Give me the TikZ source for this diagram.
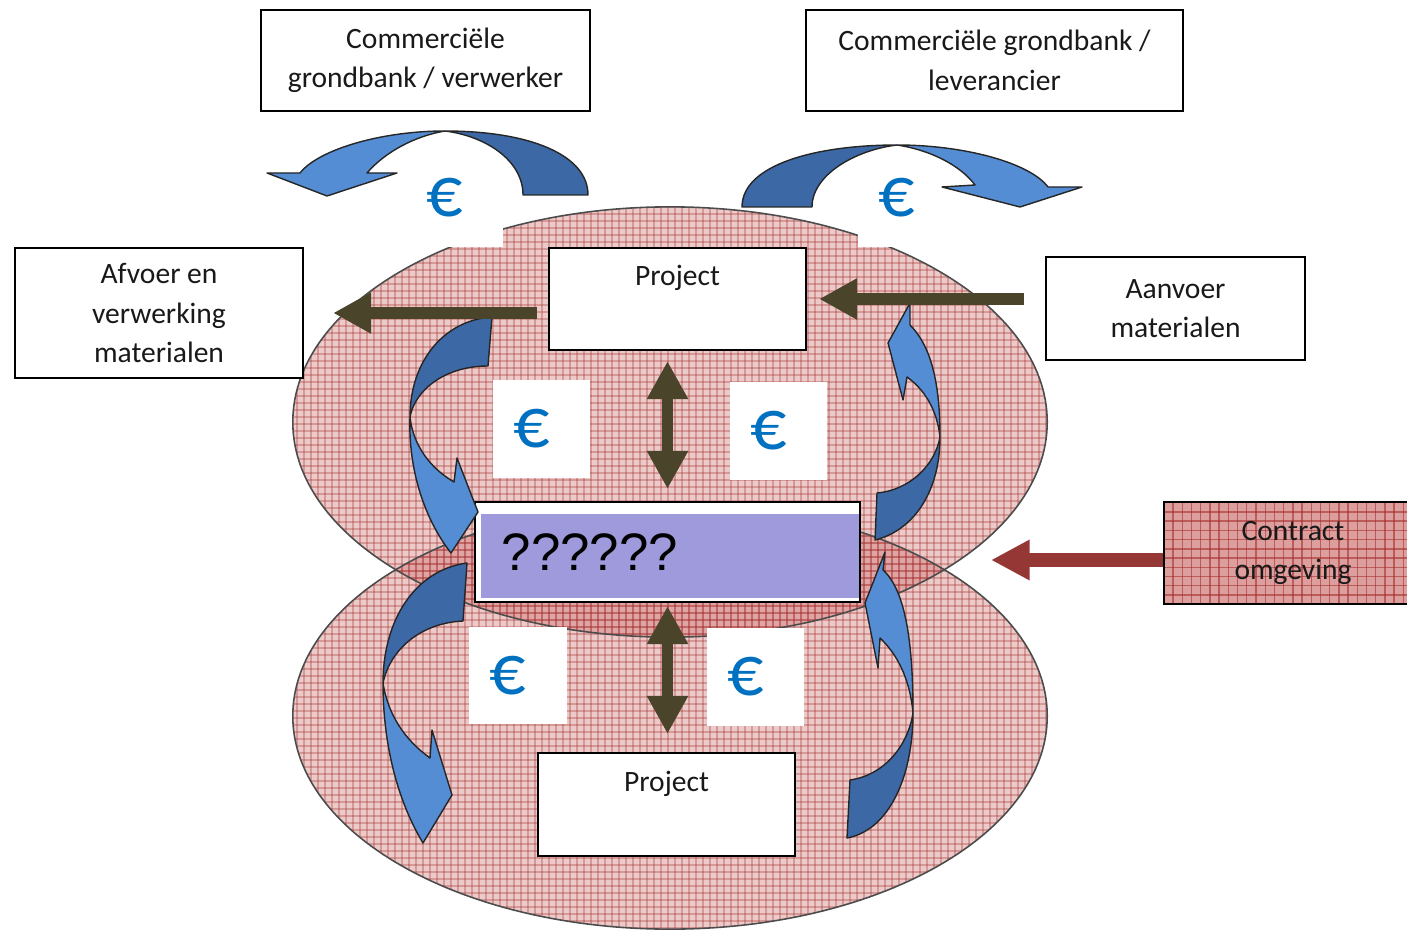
\documentclass[tikz,border=0pt]{standalone}
\usepackage{fontspec}
\setmainfont{Carlito}
\newfontfamily\qfont{Liberation Sans}
\usetikzlibrary{arrows.meta, positioning}
\definecolor{plaidred}{RGB}{192,80,77}
\definecolor{plaidline}{RGB}{165,48,48}
\definecolor{bluelight}{RGB}{84,141,212}
\definecolor{bluedark}{RGB}{60,104,166}
\definecolor{olivedark}{RGB}{74,69,42}
\definecolor{arrowred}{RGB}{149,55,53}
\definecolor{eurblue}{RGB}{0,112,192}
\definecolor{qpurple}{RGB}{158,154,220}

\tikzset{
  boxtext/.style={font=\fontsize{8.4}{11.2}\selectfont, text=black!90},
  box/.style={draw=black, line width=0.6pt, fill=white, align=center, inner sep=0pt, boxtext},
  euro/.style={fill=white, minimum width=0.97cm, minimum height=0.97cm, inner sep=0pt, text=eurblue, font=\fontsize{20.5}{20.5}\selectfont},
  gridline/.style={draw=plaidline, line width=0.4pt, opacity=0.32},
  ovaledge/.style={draw=black!70, line width=0.45pt},
  lightpart/.style={fill=bluelight, draw=black!85, line width=0.4pt, line join=round},
  darkpart/.style={fill=bluedark, draw=black!85, line width=0.4pt, line join=round},
  darkarrow/.style={draw=olivedark, line width=3.3pt, -{Triangle[length=10.8pt, width=11pt]}},
  dblarrow/.style={draw=olivedark, line width=3.4pt, {Triangle[length=10.8pt, width=11pt]}-{Triangle[length=10.8pt, width=11pt]}},
  redarrow/.style={draw=arrowred, line width=3.7pt, -{Triangle[length=11pt, width=10.8pt]}}
}

\begin{document}
\begin{tikzpicture}[x=0.01cm, y=-0.01cm]
    \path[use as bounding box, clip] (0,0) rectangle (1407,931);

    % the two plaid ovals, bottom one first
    \foreach \cy/\ry in {716/2.13cm, 422/2.15cm} {
        \begin{scope}
            \clip (670,\cy) ellipse [x radius=3.77cm, y radius=\ry];
            \fill[plaidred, fill opacity=0.3] (280,\cy-230) rectangle (1060,\cy+230);
            \foreach \gx in {290,297,...,1050}
                \draw[gridline] (\gx,\cy-230) -- (\gx,\cy+230);
            \foreach \gy in {193,200,...,950}
                \draw[gridline] (280,\gy) -- (1060,\gy);
        \end{scope}
    }
    \draw[ovaledge] (670,716) ellipse [x radius=3.77cm, y radius=2.13cm];
    \draw[ovaledge] (670,422) ellipse [x radius=3.77cm, y radius=2.15cm];

    % euro labels
    \node[euro] (euTL) at (454.5,198) {€\kern0.2cm};
    \node[euro] (euTR) at (906.5,198) {€\kern0.2cm};
    \node[euro] (euA) at (541.5,429) {€\kern0.2cm};
    \node[euro] (euB) at (778.5,431) {€\kern0.2cm};
    \node[euro] (euC) at (518,675.5) {€\kern0.2cm};
    \node[euro] (euD) at (755.5,677) {€\kern0.2cm};

    % boxes
    \node[box, minimum width=3.29cm, minimum height=1.01cm] (grondL) at (425.5,60.5) {Commerciële\\grondbank / verwerker};
    \node[box, minimum width=3.77cm, minimum height=1.01cm] (grondR) at (994.5,60.5) {Commerciële grondbank /\\leverancier};
    \node[box, minimum width=2.88cm, minimum height=1.30cm] (afvoer) at (159,313) {Afvoer en\\verwerking\\materialen};
    \node[box, minimum width=2.59cm, minimum height=1.03cm] (aanvoer) at (1175.5,308.5) {Aanvoer\\materialen};
    \node[box, minimum width=2.57cm, minimum height=1.02cm,
          label={[name=proj1lbl, anchor=north, inner sep=0pt, yshift=-0.18cm, boxtext]north:Project}] (proj1) at (677.5,299) {};
    \node[box, minimum width=2.57cm, minimum height=1.03cm,
          label={[name=proj2lbl, anchor=north, inner sep=0pt, yshift=-0.19cm, boxtext]north:Project}] (proj2) at (666.5,804.5) {};
    \node[box, fill=plaidred!55!white, minimum width=2.58cm, minimum height=1.02cm,
          path picture={
              \foreach \gk in {0,...,28}
                  \draw[gridline, opacity=0.6] ([xshift=\gk*0.092cm]path picture bounding box.south west) -- ([xshift=\gk*0.092cm]path picture bounding box.north west);
              \foreach \gk in {0,...,11}
                  \draw[gridline, opacity=0.6] ([yshift=\gk*0.092cm]path picture bounding box.south west) -- ([yshift=\gk*0.092cm]path picture bounding box.south east);
          }] (contract) at (1293,553) {Contract\\omgeving};
    \node[box, minimum width=3.85cm, minimum height=1.00cm, text width=3.31cm, inner xsep=0.27cm, align=left,
          font=\qfont\fontsize{15}{15}\selectfont, text=black,
          path picture={
              \fill[qpurple] ([xshift=0.06cm, yshift=0.04cm]path picture bounding box.south west) rectangle ([yshift=-0.12cm]path picture bounding box.north east);
          }] (qbox) at (667.5,552) {??????};

    % curved money arrows
    \fill[darkpart] (588,195) .. controls (588,155) and (530,131) .. (445,131)
        .. controls (485,136) and (523,160) .. (523,195) -- cycle;
    \fill[lightpart] (445,131) .. controls (380,131) and (318,150) .. (300,173) -- (267,173) -- (327,196) -- (397,173) -- (367,173)
        .. controls (385,152) and (415,136) .. (445,131) -- cycle;

    \fill[darkpart] (742,207) .. controls (742,165) and (815,145) .. (897,145)
        .. controls (855,150) and (812,175) .. (812,207) -- cycle;
    \fill[lightpart] (897,145) .. controls (965,145) and (1030,163) .. (1048,187) -- (1082,187) -- (1020,207) -- (942,187) -- (975,185)
        .. controls (960,165) and (930,150) .. (897,145) -- cycle;

    \fill[darkpart] (492,317) .. controls (445,320) and (410,360) .. (410,417)
        .. controls (415,390) and (445,366) .. (488,366) -- cycle;
    \fill[lightpart] (410,417) .. controls (408,470) and (425,520) .. (451,553) -- (478,512) -- (457,458) -- (454,482)
        .. controls (430,468) and (413,445) .. (410,417) -- cycle;

    \fill[darkpart] (467,563) .. controls (415,570) and (383,620) .. (383,683)
        .. controls (390,650) and (420,623) .. (463,621) -- cycle;
    \fill[lightpart] (383,683) .. controls (383,750) and (400,805) .. (423,843) -- (452,795) -- (432,730) -- (430,758)
        .. controls (405,740) and (388,715) .. (383,683) -- cycle;

    \fill[darkpart] (875,540) .. controls (915,530) and (940,490) .. (940,437)
        .. controls (935,465) and (910,490) .. (877,493) -- cycle;
    \fill[lightpart] (940,437) .. controls (940,380) and (930,345) .. (910,325) -- (910,303) -- (888,343) -- (903,400) -- (907,377)
        .. controls (925,390) and (937,410) .. (940,437) -- cycle;

    \fill[darkpart] (847,838) .. controls (890,830) and (913,775) .. (913,713)
        .. controls (908,745) and (885,775) .. (850,780) -- cycle;
    \fill[lightpart] (913,713) .. controls (913,640) and (905,590) .. (883,570) -- (885,552) -- (865,603) -- (878,668) -- (880,638)
        .. controls (898,655) and (910,680) .. (913,713) -- cycle;

    % material and contract arrows
    \coordinate (redtip) at (991,560);
    \draw[darkarrow, shorten <=0.11cm, shorten >=0.29cm] (proj1.west |- afvoer.east) -- (afvoer.east);
    \draw[darkarrow, shorten <=0.21cm, shorten >=0.12cm] (aanvoer.west |- proj1.east) -- (proj1.east);
    \draw[dblarrow, shorten <=0.10cm, shorten >=0.12cm] (qbox.north |- proj1.south) -- (qbox.north);
    \draw[dblarrow, shorten <=0.03cm, shorten >=0.18cm] (qbox.south) -- (qbox.south |- proj2.north);
    \draw[redarrow] (contract.west |- redtip) -- (redtip);
\end{tikzpicture}
\end{document}
